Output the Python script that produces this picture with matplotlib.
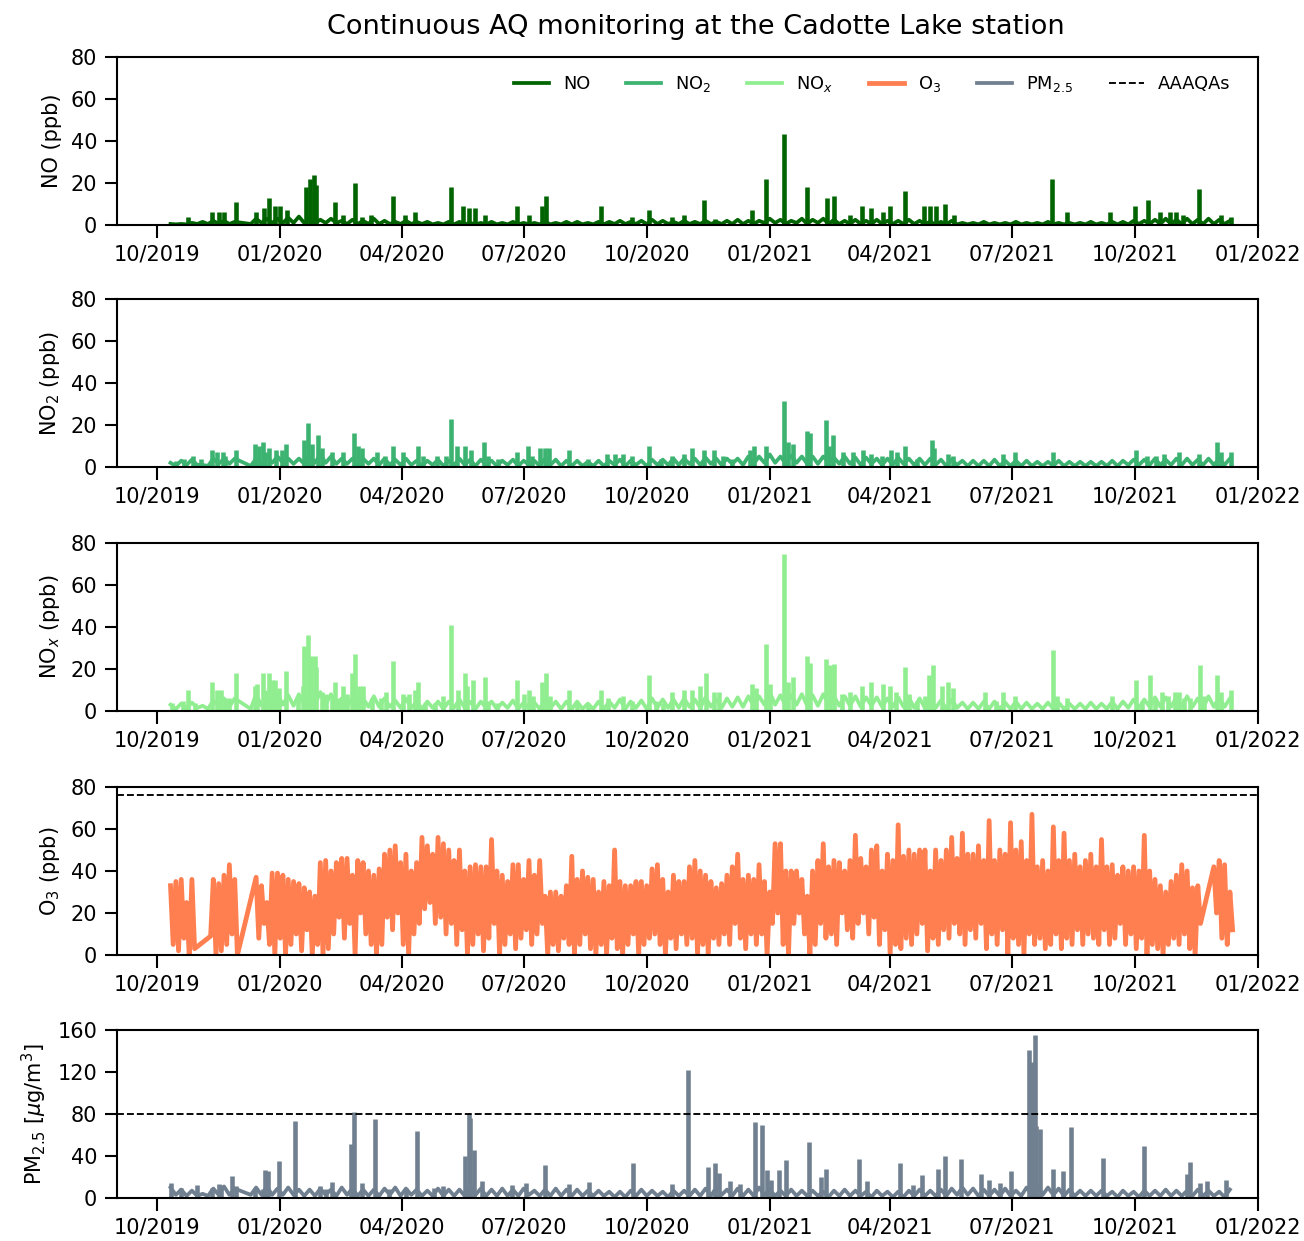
import numpy as np
import pandas as pd
import matplotlib
matplotlib.use("Agg")
import matplotlib.pyplot as plt
import matplotlib.dates as mdates

nan = np.nan
day0 = pd.Timestamp("2019-10-01")

# background level: upper values every 8 days from 11 Oct 2019,
# lower values every 8 days from 15 Oct 2019
no_base = [0.5, 0.5, 1, 1.5, 2, 2, 1.5, nan, 3, 3,
           3, 3.5, 4, 3, 2.5, 3, 2, 2.5, 2, 3,
           2, 1.5, 2, 1.5, 1.5, 1, 1.5, 1.5, 1, 1,
           1.5, 1, 1.5, 1, 1, 1.5, 1, 1.5, 1.5, 1,
           1.5, 1.5, 2, 1.5, 2, 2.5, 2, 1.5, 2, 1.5,
           2, 1.5, 2, 2.5, 2, 2, 3, 2.5, 2, 3,
           2.5, 3, 2.5, 2, 2.5, 2, 2.5, 2, 2, 2.5,
           2, 1.5, 1.5, 2, 1, 1, 1.5, 1, 1, 1.5,
           1, 1, 1.5, 1, 1, 1, 1.5, 1, 1.5, 1.5,
           2, 2, 2.5, 3, 2.5, 3, 2.5, 3, 2.5, 2]
no_dip = [0.3, 0.3, 0.5, 0.5, 0.5, 0.5, nan, 0.5, 1, 1,
          1, 1, 1, 1, 1, 1, 0.5, 0.5, 0.5, 0.5,
          0.5, 0.5, 0.5, 0.5, 0.3, 0.3, 0.3, 0.3, 0.3, 0.3,
          0.3, 0.3, 0.3, 0.3, 0.3, 0.3, 0.3, 0.3, 0.3, 0.3,
          0.3, 0.5, 0.5, 0.5, 0.5, 0.5, 0.5, 0.5, 0.5, 0.5,
          0.5, 0.5, 0.5, 0.5, 0.5, 1, 1, 0.5, 1, 0.5,
          1, 0.5, 0.5, 0.5, 0.5, 0.5, 0.5, 0.5, 0.5, 0.5,
          0.5, 0.3, 0.3, 0.3, 0.3, 0.3, 0.3, 0.3, 0.3, 0.3,
          0.3, 0.3, 0.3, 0.3, 0.3, 0.3, 0.3, 0.3, 0.3, 0.3,
          0.5, 0.5, 0.5, 0.5, 0.5, 0.5, 0.5, 0.5, 0.5, nan]
no2_base = [2, 3, 3.5, 1, 4, 4, 4, nan, 4, 5,
            5, 4, 4, 5, 6, 5, 4, 4, 4, 4,
            4, 3.5, 4, 3, 3, 3.5, 3, 4, 3.5, 3.5,
            3, 3, 3.5, 3, 3, 4, 3.5, 3, 3, 2.5,
            3, 3, 3.5, 3, 3, 3.5, 3.5, 4, 4, 4,
            4.5, 4, 4, 4, 5, 5, 6, 5, 5.5, 5,
            5, 5, 4.5, 5, 4.5, 4.5, 4, 4, 4.5, 4,
            4, 4, 3.5, 3.5, 3, 3, 3, 3.5, 3, 3,
            3, 2.5, 2.5, 3, 2.5, 2.5, 2.5, 2.5, 3, 3,
            3.5, 3.5, 4, 3.5, 4, 4, 3.5, 4, 4, 4]
no2_dip = [0.5, 1, 1, 0.5, 1.5, 1.5, nan, 0.5, 1.5, 2,
           2, 1.5, 1.5, 2, 2, 1.5, 1.5, 1, 1.5, 1,
           1, 1, 1, 0.5, 1, 0.5, 1, 1, 0.5, 1,
           0.5, 1, 0.5, 1, 0.5, 1, 0.5, 0.5, 0.5, 0.5,
           0.5, 1, 0.5, 1, 0.5, 1, 1, 1, 1.5, 1,
           1.5, 1, 1.5, 1, 1.5, 2, 2, 1.5, 2, 1.5,
           1.5, 2, 1.5, 1.5, 1, 1.5, 1, 1, 1.5, 1,
           1, 1, 0.5, 1, 0.5, 0.5, 0.5, 0.5, 0.5, 0.5,
           0.5, 0.5, 0.5, 0.5, 0.5, 0.5, 0.5, 0.5, 0.5, 1,
           1, 1, 1, 1, 1, 1, 1, 1, 1, nan]
nox_base = [3, 3.5, 4, 2.5, 5, 6, 6, nan, 8, 8,
            8, 7.5, 8, 8, 9, 8, 6, 6.5, 6, 7,
            6, 5, 6, 4.5, 4.5, 4.5, 4.5, 5.5, 4.5, 4.5,
            4.5, 4, 5, 4, 4, 5.5, 4.5, 4.5, 4.5, 3.5,
            4.5, 4.5, 5.5, 4.5, 5, 6, 5.5, 5.5, 6, 5.5,
            6.5, 5.5, 6, 6.5, 7, 7, 9, 7.5, 7.5, 8,
            7.5, 8, 7, 7, 7, 6.5, 6.5, 6, 6.5, 6.5,
            6, 5.5, 5, 5.5, 4, 4, 4.5, 4.5, 4, 4.5,
            4, 3.5, 4, 4, 3.5, 3.5, 4, 3.5, 4.5, 4.5,
            5.5, 5.5, 6.5, 6.5, 6.5, 7, 6, 7, 6.5, 6]
nox_dip = [1, 1.5, 1.5, 1, 2, 2, nan, 1, 2.5, 3,
           3, 2.5, 3, 3, 3, 2.5, 2, 2, 2, 2,
           2, 1.5, 1.5, 1, 1.5, 1, 1.5, 1.5, 1, 1.5,
           1, 1.5, 1, 1.5, 1, 1.5, 1, 1, 1, 1,
           1, 1.5, 1, 1.5, 1, 1.5, 1.5, 1.5, 2, 1.5,
           2, 1.5, 2, 2, 2.5, 3, 3, 2.5, 3, 2.5,
           2.5, 3, 2.5, 2.5, 2, 2.5, 2, 2, 2, 1.5,
           1.5, 1.5, 1, 1.5, 1, 1, 1, 1, 1, 1,
           1, 1, 1, 1, 1, 1, 1, 1, 1, 1.5,
           1.5, 2, 2, 2, 2, 2, 1.5, 2, 2, nan]
pm_base = [10, 8, 7, 4, 9, 11, 9, nan, 10, 11,
           9, 10, 8, 8, 9, 8, 10, 9, 8, 8,
           9, 10, 9, 8, 7, 9, 8, 8, 10, 9,
           8, 9, 8, 9, 7, 8, 9, 8, 8, 7,
           7, 6, 6, 7, 8, 7, 6, 7, 7, 8,
           9, 10, 8, 9, 8, 10, 8, 7, 8, 7,
           7, 6, 7, 8, 7, 6, 7, 6, 6, 7,
           8, 7, 8, 9, 10, 9, 8, 8, 9, 7,
           10, 12, 10, 9, 8, 7, 7, 7, 6, 7,
           6, 7, 7, 8, 7, 7, 8, 7, 6, 8]
pm_dip = [3, 2, 2, 2, 3, 3, nan, 3, 3, 3,
          3, 3, 2, 2, 3, 2, 3, 2, 2, 2,
          3, 2, 3, 2, 2, 2, 2, 2, 3, 2,
          2, 2, 2, 3, 2, 2, 2, 2, 2, 2,
          2, 1, 1, 2, 2, 2, 1, 2, 2, 2,
          2, 3, 2, 2, 2, 3, 2, 2, 2, 2,
          2, 1, 2, 2, 2, 1, 2, 1, 1, 2,
          2, 2, 2, 3, 3, 2, 2, 2, 2, 2,
          3, 3, 3, 2, 2, 2, 2, 2, 1, 2,
          1, 2, 2, 2, 2, 2, 2, 2, 1, nan]

# short episodes: (days after 1 Oct 2019, value)
no_spikes = [(23, 4), (41, 6), (46, 6), (50, 6), (59, 11), (74, 6), (80, 8), (84, 13),
             (88, 9), (92, 9), (97, 7), (111, 18), (114, 22), (117, 24), (119, 19),
             (133, 11), (139, 5), (148, 20), (153, 4), (160, 5), (176, 14), (185, 5),
             (193, 6), (220, 18), (229, 9), (233, 8), (238, 8), (245, 5), (269, 9),
             (278, 5), (288, 9), (291, 14), (332, 9), (355, 4), (368, 7), (385, 4),
             (394, 5), (409, 12), (417, 3), (445, 7), (455, 22), (469, 43.5), (486, 18),
             (501, 13), (506, 14), (518, 5), (527, 9), (534, 8), (543, 6), (548, 9),
             (559, 16), (573, 9), (578, 9), (582, 9), (589, 10), (596, 5), (669, 22),
             (680, 6), (712, 6), (731, 9), (741, 12), (750, 6), (757, 6), (762, 6),
             (767, 5), (779, 17), (795, 5), (803, 4)]
no2_spikes = [(14, 3), (20, 4), (27, 5), (33, 4), (41, 8), (45, 7), (49, 7), (51, 5),
              (59, 8), (73, 11), (76, 10), (79, 12), (81, 7), (84, 9), (89, 8), (93, 8),
              (96, 11), (110, 13), (113, 21), (116, 11), (120, 15), (123, 9), (131, 7),
              (139, 7), (147, 16), (150, 10), (153, 9), (164, 7), (170, 5), (176, 10),
              (184, 7), (195, 10), (199, 5), (209, 5), (216, 5), (220, 23), (224, 10),
              (230, 10), (235, 8), (244, 12), (247, 5), (255, 4), (269, 7), (277, 10),
              (280, 5), (286, 9), (290, 9), (293, 9), (308, 8), (322, 4), (336, 6),
              (342, 6), (348, 6), (355, 5), (368, 10), (377, 4), (385, 5), (394, 6),
              (400, 9), (409, 8), (416, 8), (423, 5), (430, 4), (443, 8), (446, 10),
              (455, 10), (469, 31.5), (472, 12), (475, 11), (486, 17), (488, 16),
              (500, 22.5), (502, 10), (505, 15), (513, 7), (520, 7), (528, 8), (534, 6),
              (542, 5), (549, 8), (553, 7), (559, 10), (568, 4), (579, 13), (581, 9),
              (591, 6), (595, 5), (632, 6), (641, 7), (670, 7), (732, 8), (740, 5),
              (747, 5), (753, 6), (764, 7), (779, 6), (792, 12), (795, 7), (803, 7)]
nox_spikes = [(11, 4), (19, 5), (23, 10), (28, 4), (41, 14), (45, 10), (48, 10), (51, 6),
              (54, 6), (59, 18), (73, 12), (75, 13), (79, 18), (81, 10), (84, 18),
              (86, 15), (88, 15), (91, 11), (96, 19), (105, 7), (109, 12), (110, 31),
              (113, 36), (115, 26), (118, 26), (119, 21), (123, 9), (126, 8), (131, 6),
              (133, 14), (136, 6), (139, 12), (142, 8), (146, 18), (148, 27), (151, 12),
              (154, 12), (161, 6), (167, 6), (171, 9), (176, 24), (184, 8), (188, 8),
              (193, 10), (195, 14), (200, 4), (208, 4), (214, 7), (220, 41), (225, 10),
              (230, 18), (232, 12), (236, 15), (245, 16), (247, 5), (254, 4), (269, 15),
              (274, 8), (278, 10), (281, 7), (288, 14), (291, 18), (294, 7), (308, 10),
              (314, 4), (322, 4), (332, 10), (337, 6), (348, 7), (355, 5), (368, 17),
              (373, 5), (378, 4), (385, 9), (394, 10), (400, 10), (406, 12), (410, 18),
              (416, 9), (420, 9), (445, 13), (448, 11), (455, 32), (458, 13), (469, 75),
              (472, 14), (475, 16), (486, 26), (488, 23), (500, 25), (503, 22), (506, 22.5),
              (512, 8), (518, 9), (527, 12), (534, 14), (543, 13), (548, 12), (552, 9),
              (559, 21), (562, 8), (568, 5), (574, 7), (577, 17), (580, 22), (587, 12),
              (591, 14), (595, 11), (619, 9), (627, 5), (632, 9), (641, 7), (670, 29),
              (673, 7), (680, 6), (714, 7), (732, 15), (736, 5), (742, 17), (746, 6),
              (751, 9), (756, 7), (761, 9), (764, 9), (768, 6), (772, 6), (780, 22),
              (783, 7), (792, 17), (795, 9), (803, 10)]
pm_spikes = [(10, 14), (18, 10), (30, 12), (41, 10), (46, 13), (48, 12), (56, 21), (59, 11),
             (73, 10), (79, 9), (81, 27), (83, 26), (91, 35), (103, 73), (122, 11), (126, 9),
             (131, 15), (145, 51), (147, 82), (153, 14), (163, 75), (173, 9), (186, 10),
             (194, 64), (207, 10), (214, 11), (230, 40), (233, 80), (234, 76), (237, 46),
             (243, 16), (265, 12), (276, 14), (290, 31), (308, 13), (323, 15), (356, 33),
             (385, 13), (397, 122), (412, 30), (417, 33), (420, 24), (428, 16), (436, 13),
             (447, 72), (452, 70), (456, 27), (459, 17), (465, 27), (470, 36), (487, 53),
             (496, 20), (500, 28), (525, 37), (531, 16), (555, 33), (565, 12), (572, 22),
             (584, 28), (589, 40), (601, 37), (616, 23), (622, 17), (630, 14), (638, 26),
             (652, 141), (654, 130), (656, 155), (657, 69), (660, 66), (670, 28), (677, 26),
             (683, 68), (707, 38), (738, 50), (770, 23), (772, 34), (780, 14), (785, 16),
             (799, 17)]

# ozone highs (every 4 days from 11 Oct 2019) and lows (every 4 days from 13 Oct 2019)
o3_high = [33, 35, 36, 25, 36, nan, nan, nan, 36, 34,
           38, 43, 36, nan, nan, nan, 37, 33, 25, 39,
           39, 38, 36, 35, 34, 32, 30, 28, 44, 45,
           40, 44, 46, 46, 38, 45, 44, 40, 38, 41,
           48, 50, 52, 44, 48, 40, 44, 56, 52, 48,
           56, 53, 50, 45, 50, 40, 42, 43, 42, 42,
           55, 40, 38, 35, 43, 43, 36, 45, 38, 45,
           28, 30, 30, 28, 33, 47, 36, 40, 37, 36,
           30, 35, 33, 50, 35, 33, 33, 35, 35, 33,
           41, 43, 36, 30, 38, 35, 35, 42, 45, 40,
           38, 35, 32, 34, 38, 42, 48, 36, 38, 36,
           43, 35, 30, 53, 53, 40, 40, 40, 36, 28,
           40, 45, 53, 42, 45, 44, 40, 45, 57, 46,
           42, 50, 52, 40, 48, 45, 62, 47, 50, 48,
           50, 50, 40, 50, 45, 50, 56, 46, 58, 48,
           48, 52, 45, 64, 45, 50, 48, 63, 50, 54,
           45, 67, 42, 45, 40, 61, 45, 58, 45, 48,
           42, 45, 48, 42, 55, 42, 43, 38, 42, 40,
           42, 40, 57, 40, 36, 33, 30, 35, 38, 43,
           40, 32, 33, nan, nan, 42, 45, 43, 30]
o3_low = [5, 2, 8, 0, 3, nan, nan, 9, 0, 2,
          5, 10, 0, nan, nan, nan, 8, 15, 5, 0,
          8, 0, 5, 10, 2, 12, 0, 5, 0, 3,
          10, 18, 8, 15, 0, 20, 10, 5, 0, 5,
          18, 12, 20, 5, 0, 10, 15, 22, 25, 15,
          18, 10, 15, 5, 12, 0, 5, 10, 2, 8,
          15, 0, 5, 10, 3, 8, 12, 5, 10, 15,
          0, 5, 2, 8, 5, 0, 5, 10, 3, 0,
          5, 0, 8, 3, 0, 5, 10, 0, 5, 8,
          10, 5, 0, 8, 3, 10, 5, 8, 0, 5,
          0, 8, 5, 10, 5, 15, 8, 3, 10, 5,
          10, 0, 15, 20, 5, 0, 15, 20, 10, 0,
          5, 15, 8, 10, 5, 20, 12, 8, 15, 20,
          10, 18, 5, 12, 0, 5, 3, 8, 5, 10,
          15, 2, 8, 5, 12, 8, 15, 10, 5, 12,
          8, 15, 3, 10, 5, 12, 0, 8, 5, 0,
          10, 5, 8, 3, 5, 10, 3, 8, 5, 12,
          5, 10, 8, 5, 12, 5, 8, 15, 5, 10,
          3, 8, 0, 5, 3, 0, 5, 8, 5, 10,
          3, 0, 15, nan, nan, 20, 8, 5, 12]

o3_limit = 76
pm_limit = 80

c_no, c_no2, c_nox, c_o3, c_pm = "darkgreen", "mediumseagreen", "lightgreen", "coral", "slategray"


def merged(upper, lower, t_upper, t_lower):
    s = pd.concat([pd.Series(upper, index=t_upper), pd.Series(lower, index=t_lower)])
    return s.sort_index().dropna()


def spike_xy(spikes):
    d, v = zip(*spikes)
    return day0 + pd.to_timedelta(d, unit="D"), np.array(v)


base_t = pd.date_range("2019-10-11", periods=len(no_base), freq="8D")
dip_t = pd.date_range("2019-10-15", periods=len(no_dip), freq="8D")
high_t = pd.date_range("2019-10-11", periods=len(o3_high), freq="4D")
low_t = pd.date_range("2019-10-13", periods=len(o3_low), freq="4D")

o3 = merged(o3_high, o3_low, high_t, low_t)

fig = plt.figure(figsize=(13.04 / 1.5, 12.41 / 1.5), dpi=150)
left, width, height = 117 / 1304, 1141 / 1304, 168 / 1241
bottoms = [1 - 225 / 1241, 1 - 467 / 1241, 1 - 711 / 1241, 1 - 955 / 1241, 1 - 1198 / 1241]
axes = [fig.add_axes([left, b, width, height]) for b in bottoms]

lw = 1.8
spike_lw = 2.2
handles = []
panels = [(no_base, no_dip, no_spikes, c_no, "NO", "NO (ppb)"),
          (no2_base, no2_dip, no2_spikes, c_no2, "NO$_2$", "NO$_2$ (ppb)"),
          (nox_base, nox_dip, nox_spikes, c_nox, "NO$_x$", "NO$_x$ (ppb)")]
for ax, (base, dip, spikes, c, lab, ylab) in zip(axes[:3], panels):
    s = merged(base, dip, base_t, dip_t)
    h, = ax.plot(s.index, s.values, color=c, lw=lw, label=lab)
    sx, sy = spike_xy(spikes)
    ax.vlines(sx, 0, sy, colors=c, lw=spike_lw)
    ax.set_ylabel(ylab)
    ax.set_ylim(0, 80)
    ax.set_yticks([0, 20, 40, 60, 80])
    handles.append(h)

ax = axes[3]
h, = ax.plot(o3.index, o3.values, color=c_o3, lw=2.3, label="O$_3$")
handles.append(h)
ax.axhline(o3_limit, color="black", ls="--", lw=0.9)
ax.set_ylabel("O$_3$ (ppb)")
ax.set_ylim(0, 80)
ax.set_yticks([0, 20, 40, 60, 80])

ax = axes[4]
s = merged(pm_base, pm_dip, base_t, dip_t)
h, = ax.plot(s.index, s.values, color=c_pm, lw=lw, label="PM$_{2.5}$")
handles.append(h)
sx, sy = spike_xy(pm_spikes)
ax.vlines(sx, 0, sy, colors=c_pm, lw=spike_lw)
lim, = ax.plot([], [], color="black", ls="--", lw=0.9, label="AAAQAs")
handles.append(lim)
ax.axhline(pm_limit, color="black", ls="--", lw=0.9)
ax.set_ylabel("PM$_{2.5}$ [$\\mu$g/m$^3$]")
ax.set_ylim(0, 160)
ax.set_yticks([0, 40, 80, 120, 160])

for ax in axes:
    ax.set_xlim(pd.Timestamp("2019-09-01"), pd.Timestamp("2022-01-01"))
    ax.xaxis.set_major_locator(mdates.MonthLocator(bymonth=[1, 4, 7, 10]))
    ax.xaxis.set_major_formatter(mdates.DateFormatter("%m/%Y"))
    ax.tick_params(labelsize=10, length=6, width=1)
    for sp in ax.spines.values():
        sp.set_linewidth(1)

axes[0].legend(handles=handles, loc="upper right", ncol=6, frameon=False, fontsize=8.5,
               bbox_to_anchor=(0.99, 0.995))
fig.text(696 / 1304, 1 - 27 / 1241, "Continuous AQ monitoring at the Cadotte Lake station",
         ha="center", va="center", fontsize=13)

fig.savefig("out.png", dpi=150)
